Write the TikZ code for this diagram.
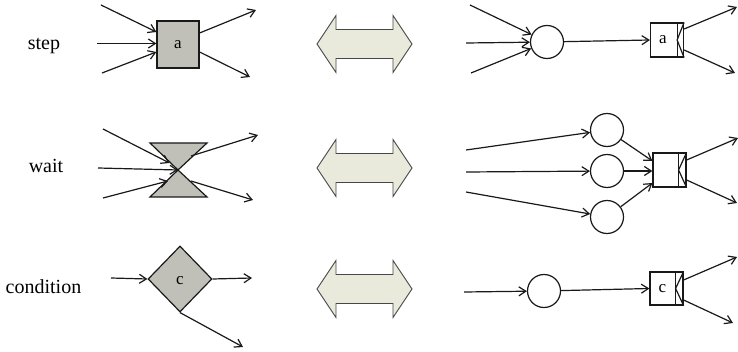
\documentclass[tikz,border=0pt]{standalone}
\usepackage{fontspec}
\setmainfont{Liberation Serif}
\usetikzlibrary{arrows.meta,shapes.geometric}
\definecolor{boxgray}{RGB}{192,192,184}
\definecolor{dblfill}{RGB}{234,234,220}
\definecolor{dbldraw}{RGB}{70,70,70}
\tikzset{
  x=1pt,y=-1pt,
  ln/.style={line width=1.2pt,draw=black!90},
  arr/.style={ln,-{Straight Barb[length=7pt,width=9pt,line width=1.2pt]}},
  lbl/.style={font=\fontsize{20}{23}\selectfont,inner sep=0pt},
  inl/.style={font=\fontsize{17}{20}\selectfont,inner sep=0pt},
  graybox/.style={ln,fill=boxgray,rectangle,inner sep=0pt},
  place/.style={ln,circle,inner sep=0pt,minimum size=33pt},
  trans/.style={ln,rectangle,inner sep=0pt},
  dblstyle/.style={line width=0.9pt,draw=dbldraw,fill=dblfill,line join=miter},
  dblarrow/.pic={\draw[dblstyle] (-47.5,0) -- (-28.5,-28.5) -- (-28.5,-14.5) -- (28.5,-14.5) -- (28.5,-28.5) -- (47.5,0) -- (28.5,28.5) -- (28.5,14.5) -- (-28.5,14.5) -- (-28.5,28.5) -- cycle;}
}
\begin{document}
\begin{tikzpicture}
\useasboundingbox (0,0) rectangle (738,352);

% labels
\node[lbl] (lstep) at (44,46) {step};
\node[lbl] (lwait) at (46,166) {wait};
\node[lbl] (lcond) at (43.5,287) {condition};

% double arrows
\pic at (364.5,44) {dblarrow};
\pic at (364.5,168) {dblarrow};
\pic at (364.5,289) {dblarrow};

% ---------- row 1 left: step ----------
\node[graybox,minimum width=42pt,minimum height=47pt] (sa) at (178,44.5) {};
\node[inl] (sal) at (sa.center) {a};
\coordinate (s1) at (101,5);
\coordinate (s2) at (97,43.5);
\coordinate (s3) at (102,73);
\coordinate (so1) at (256,10);
\coordinate (so2) at (250,77);
\draw[arr] (s1) -- ([yshift=12.5pt]sa.west);
\draw[arr] (s2) -- ([yshift=1pt]sa.west);
\draw[arr] (s3) -- ([yshift=-7.5pt]sa.west);
\draw[arr] ([yshift=11.5pt]sa.east) -- (so1);
\draw[arr] ([yshift=-7.5pt]sa.east) -- (so2);

% ---------- row 2 left: wait ----------
\coordinate (wc) at (178,170);
\draw[ln,fill=boxgray,line join=miter] (150,143) -- (207,143) -- (wc) -- cycle;
\draw[ln,fill=boxgray,line join=miter] (wc) -- (150,197) -- (207,197) -- cycle;
\coordinate (w1) at (103,129);
\coordinate (w2) at (98,168);
\coordinate (w3) at (103,198);
\coordinate (we1) at (169.5,163);
\coordinate (we3) at (168,181);
\coordinate (wo1s) at (191,156);
\coordinate (wo2s) at (191,181);
\coordinate (wo1) at (258,135);
\coordinate (wo2) at (253,200);
\draw[arr] (w1) -- (we1);
\draw[arr] (w2) -- (wc);
\draw[arr] (w3) -- (we3);
\draw[arr] (wo1s) -- (wo1);
\draw[arr] (wo2s) -- (wo2);

% ---------- row 3 left: condition ----------
\node[ln,fill=boxgray,diamond,shape aspect=1,inner sep=0pt,minimum width=64pt,minimum height=66pt] (cd) at (180,279) {};
\node[inl] (cdl) at (180,281) {c};
\coordinate (c1) at (111,278);
\coordinate (co1) at (252,278);
\coordinate (co2) at (243,347);
\draw[arr] (c1) -- (cd.west);
\draw[arr] (cd.east) -- (co1);
\draw[arr] (cd.south) -- (co2);

% ---------- row 1 right ----------
\node[place] (p1) at (547,42) {};
\node[trans,minimum width=33pt,minimum height=34pt] (t1) at (667,40) {};
\draw[ln] ([xshift=-7pt]t1.north east) -- ([xshift=-7pt]t1.south east);
\draw[ln] (t1.north east) -- ([xshift=-7pt]t1.east) -- (t1.south east);
\node[inl] (t1l) at (663,40) {a};
\coordinate (r1a) at (470,5);
\coordinate (r1b) at (466,43);
\coordinate (r1c) at (471,73);
\coordinate (r1o1) at (737,7);
\coordinate (r1o2) at (735,73);
\draw[arr] (r1a) -- (p1);
\draw[arr] (r1b) -- (p1);
\draw[arr] (r1c) -- (p1);
\draw[arr] (p1) -- (t1.west);
\draw[arr] ([yshift=11pt]t1.east) -- (r1o1);
\draw[arr] ([yshift=-10pt]t1.east) -- (r1o2);

% ---------- row 2 right ----------
\node[place] (q1) at (607,130) {};
\node[place] (q2) at (607,171) {};
\node[place] (q3) at (607,217) {};
\node[trans,minimum width=33pt,minimum height=34pt] (t2) at (669.5,170) {};
\draw[ln] ([xshift=-8pt]t2.north east) -- ([xshift=-8pt]t2.south east);
\draw[ln] (t2.north east) -- ([xshift=-8pt]t2.east) -- (t2.south east);
\coordinate (r2a) at (466,150);
\coordinate (r2b) at (466,172);
\coordinate (r2c) at (466,192);
\coordinate (r2o1) at (738,138);
\coordinate (r2o2) at (737,203);
\draw[arr] (r2a) -- (q1);
\draw[arr] (r2b) -- (q2);
\draw[arr] (r2c) -- (q3);
\draw[arr] (q1) -- ([yshift=9pt]t2.west);
\draw[arr] (q2) -- ([yshift=-1pt]t2.west);
\draw[arr] (q3) -- ([yshift=-13pt]t2.west);
\draw[arr] ([yshift=10pt]t2.east) -- (r2o1);
\draw[arr] ([yshift=-10pt]t2.east) -- (r2o2);

% ---------- row 3 right ----------
\node[place] (u1) at (544,291) {};
\node[trans,minimum width=33pt,minimum height=33pt] (t3) at (666.5,288.5) {};
\draw[ln] ([xshift=-8pt]t3.north east) -- ([xshift=-8pt]t3.south east);
\draw[ln] (t3.north east) -- ([xshift=-8pt]t3.east) -- (t3.south east);
\node[inl] (t3l) at (662.5,289) {c};
\coordinate (r3a) at (464,292);
\coordinate (r3o1) at (737,257);
\coordinate (r3o2) at (733,323);
\draw[arr] (r3a) -- (u1);
\draw[arr] (u1) -- (t3.west);
\draw[arr] ([yshift=8.5pt]t3.east) -- (r3o1);
\draw[arr] ([yshift=-11.5pt]t3.east) -- (r3o2);
\end{tikzpicture}
\end{document}
